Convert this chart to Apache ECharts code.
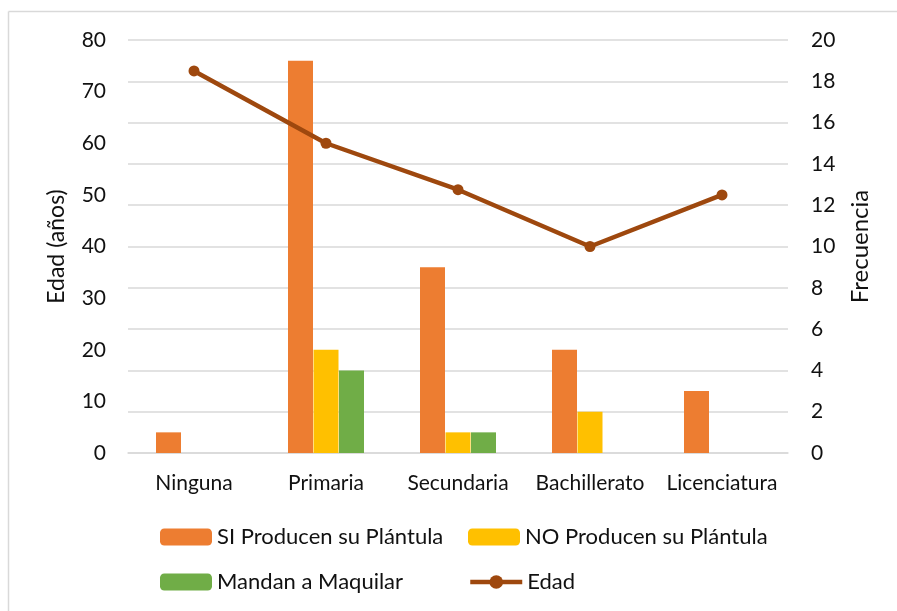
<!DOCTYPE html>
<html>
<head>
<meta charset="utf-8">
<script src="https://cdn.jsdelivr.net/npm/echarts@6/dist/echarts.min.js"></script>
<style>
  html, body { margin: 0; padding: 0; background: #fff; }
  #chart { width: 897px; height: 611px; }
</style>
</head>
<body>
<div id="chart"></div>
<script>
// Nivel de estudios
const categories = ['Ninguna', 'Primaria', 'Secundaria', 'Bachillerato', 'Licenciatura'];
// Frecuencias (eje derecho)
const siProducen = [1, 19, 9, 5, 3];
const noProducen = [null, 5, 1, 2, null];
const mandanMaquilar = [null, 4, 1, null, null];
// Edad promedio en años (eje izquierdo)
const edad = [74, 60, 51, 40, 50];
// Etiquetas de los ejes
const leftTicks = [0, 10, 20, 30, 40, 50, 60, 70, 80];
const rightTicks = [0, 2, 4, 6, 8, 10, 12, 14, 16, 18, 20];

const FONT = 'Lato, "Open Sans", sans-serif';
const TEXT = '#111111';

const chart = echarts.init(document.getElementById('chart'), null, { renderer: 'canvas' });

function legendAt(name, left, top) {
  return {
    data: [name],
    left: left,
    top: top,
    itemWidth: 52,
    itemHeight: 17,
    itemGap: 6,
    lineStyle: { width: 4.5 },
    textStyle: { fontFamily: FONT, fontSize: 22, color: TEXT },
    selectedMode: false
  };
}

chart.setOption({
  animation: false,
  backgroundColor: '#ffffff',
  textStyle: { fontFamily: FONT },
  graphic: [
    { type: 'line', shape: { x1: 8.5, y1: 11.5, x2: 897, y2: 11.5 }, style: { stroke: '#d9d9d9', lineWidth: 1.5 } },
    { type: 'line', shape: { x1: 8.5, y1: 11.5, x2: 8.5, y2: 611 }, style: { stroke: '#d9d9d9', lineWidth: 1.5 } }
  ],
  grid: { left: 128, right: 109, top: 40, bottom: 158, containLabel: false },
  legend: [
    legendAt('SI Producen su Plántula', 155, 521),
    legendAt('NO Producen su Plántula', 463, 521),
    legendAt('Mandan a Maquilar', 155, 566),
    legendAt('Edad', 463, 566)
  ],
  xAxis: {
    type: 'category',
    data: categories,
    axisLine: { show: true, lineStyle: { color: '#d9d9d9', width: 1.5 } },
    axisTick: { show: false },
    axisLabel: { color: TEXT, fontSize: 21, fontFamily: FONT, margin: 20, interval: 0, hideOverlap: false }
  },
  yAxis: [
    {
      type: 'value',
      min: leftTicks[0],
      max: leftTicks[leftTicks.length - 1],
      interval: 10,
      name: 'Edad (años)',
      nameLocation: 'middle',
      nameGap: 60,
      nameRotate: 90,
      nameTextStyle: { color: TEXT, fontSize: 23, fontFamily: FONT },
      axisLine: { show: false },
      axisTick: { show: false },
      splitLine: { show: false },
      axisLabel: { color: TEXT, fontSize: 21, fontFamily: FONT, margin: 22 }
    },
    {
      type: 'value',
      min: rightTicks[0],
      max: rightTicks[rightTicks.length - 1],
      interval: 2,
      name: 'Frecuencia',
      nameLocation: 'middle',
      nameGap: 60,
      nameRotate: 90,
      nameTextStyle: { color: TEXT, fontSize: 24, fontFamily: FONT },
      axisLine: { show: false },
      axisTick: { show: false },
      splitLine: { show: true, lineStyle: { color: '#d9d9d9', width: 1.5 } },
      axisLabel: { color: TEXT, fontSize: 21, fontFamily: FONT, margin: 23 }
    }
  ],
  series: [
    {
      name: 'SI Producen su Plántula',
      type: 'bar',
      yAxisIndex: 1,
      data: siProducen,
      barWidth: 25,
      barGap: '2%',
      itemStyle: { color: '#ed7d31' }
    },
    {
      name: 'NO Producen su Plántula',
      type: 'bar',
      yAxisIndex: 1,
      data: noProducen,
      barWidth: 25,
      barGap: '2%',
      itemStyle: { color: '#ffc000' }
    },
    {
      name: 'Mandan a Maquilar',
      type: 'bar',
      yAxisIndex: 1,
      data: mandanMaquilar,
      barWidth: 25,
      barGap: '2%',
      itemStyle: { color: '#70ad47' }
    },
    {
      name: 'Edad',
      type: 'line',
      yAxisIndex: 0,
      data: edad,
      symbol: 'circle',
      symbolSize: 11,
      lineStyle: { color: '#9e480e', width: 4.5 },
      itemStyle: { color: '#9e480e' },
      z: 5
    }
  ]
});
</script>
</body>
</html>
